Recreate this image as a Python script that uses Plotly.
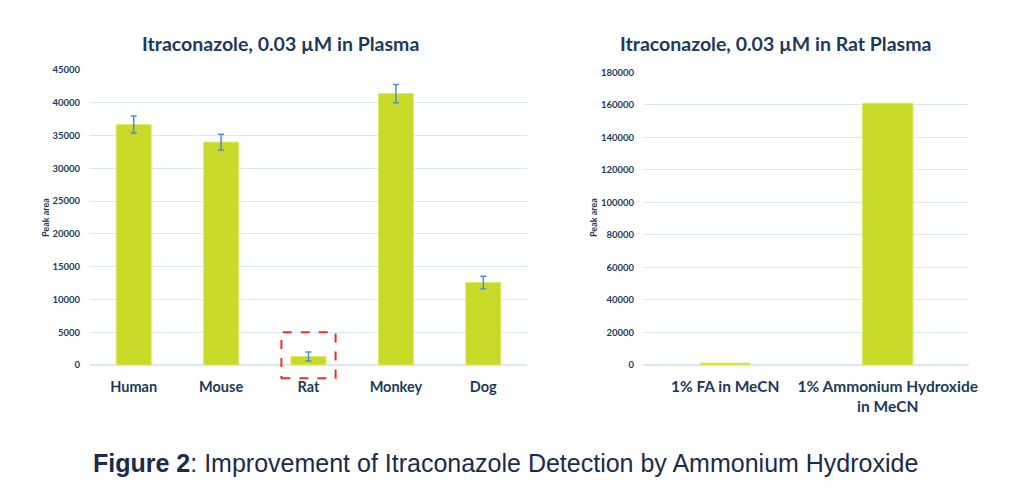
import plotly.graph_objects as go

# Left chart data
species = ["Human", "Mouse", "Rat", "Monkey", "Dog"]
peak_area = [36700, 34000, 1300, 41400, 12600]
peak_err = [1300, 1200, 700, 1400, 950]

# Right chart data
solvents = ["1% FA in MeCN", "1% Ammonium Hydroxide<br>in MeCN"]
rat_peak_area = [1200, 161000]

left_ticks = [0, 5000, 10000, 15000, 20000, 25000, 30000, 35000, 40000, 45000]
right_ticks = [0, 20000, 40000, 60000, 80000, 100000, 120000, 140000, 160000, 180000]

W, H = 1024, 494
BAR = "#c9d928"
NAVY = "#1b3a5c"
GRID = "#d5e8f5"
FONT = "Lato"

fig = go.Figure()
fig.add_trace(go.Bar(
    x=species, y=peak_area, marker=dict(color=BAR, line=dict(color="#dfe86a", width=1)),
    error_y=dict(type="data", array=peak_err, color="#4a8fd6", thickness=1.5, width=3),
    xaxis="x", yaxis="y", showlegend=False))
fig.add_trace(go.Bar(
    x=solvents, y=rat_peak_area, width=0.31,
    marker=dict(color=BAR, line=dict(color="#dfe86a", width=1)),
    xaxis="x2", yaxis="y2", showlegend=False))

def px(x): return x / W
def py(y): return 1 - y / H

def bold(items): return ["<b>" + str(s).replace("<br>", "</b><br><b>") + "</b>" for s in items]

axis_font = dict(family=FONT, size=9.5, color=NAVY)

fig.update_layout(
    width=W, height=H, margin=dict(l=0, r=0, t=0, b=0, autoexpand=False),
    paper_bgcolor="white", plot_bgcolor="white", bargap=0.6,
    font=dict(family=FONT, color=NAVY),
    xaxis=dict(domain=[px(90), px(527)], tickfont=dict(family=FONT, size=14.5, color=NAVY),
               showgrid=False, tickvals=species, ticktext=bold(species), automargin=False,
               showline=False, ticks="", ticklabelstandoff=11),
    yaxis=dict(domain=[py(365), py(70)], range=[0, 45000], tickvals=left_ticks,
               ticktext=bold(left_ticks), automargin=False,
               tickfont=axis_font, gridcolor=GRID, gridwidth=1, zeroline=True,
               zerolinecolor=GRID, showline=False, ticks="", ticklabelstandoff=9),
    xaxis2=dict(domain=[px(644), px(969)], tickfont=dict(family=FONT, size=15.5, color=NAVY),
                showgrid=False, tickvals=solvents, ticktext=bold(solvents), automargin=False,
                showline=False, ticks="", anchor="y2", ticklabelstandoff=10),
    yaxis2=dict(domain=[py(365), py(72.3)], range=[0, 180000], tickvals=right_ticks,
                ticktext=bold(right_ticks), automargin=False,
                tickfont=axis_font, gridcolor=GRID, gridwidth=1, zeroline=True,
                zerolinecolor=GRID, showline=False, ticks="", anchor="x2",
                ticklabelstandoff=9),
)

ann = [
    dict(text="<b>Itraconazole, 0.03 µM in Plasma</b>", x=px(280), y=py(44),
         font=dict(family=FONT, size=19.5, color=NAVY)),
    dict(text="<b>Itraconazole, 0.03 µM in Rat Plasma</b>", x=px(775), y=py(44),
         font=dict(family=FONT, size=19.5, color=NAVY)),
    dict(text="<b>Peak area</b>", x=px(45), y=py(218), textangle=-90,
         font=dict(family=FONT, size=9, color=NAVY)),
    dict(text="<b>Peak area</b>", x=px(593), y=py(218), textangle=-90,
         font=dict(family=FONT, size=9, color=NAVY)),
    dict(text="<b>Figure 2</b>: Improvement of Itraconazole Detection by Ammonium Hydroxide",
         x=px(505), y=py(463),
         font=dict(family="Liberation Sans", size=25, color="#1a2b4c")),
]
for a in ann:
    a.update(xref="paper", yref="paper", showarrow=False, xanchor="center", yanchor="middle")
fig.update_layout(annotations=ann)

fig.add_shape(type="rect", xref="x", yref="paper", x0=1.69, x1=2.31,
              y0=py(378.3), y1=py(332.3),
              line=dict(color="#e8302a", width=2, dash="dash"))

fig.write_html("out.html")
